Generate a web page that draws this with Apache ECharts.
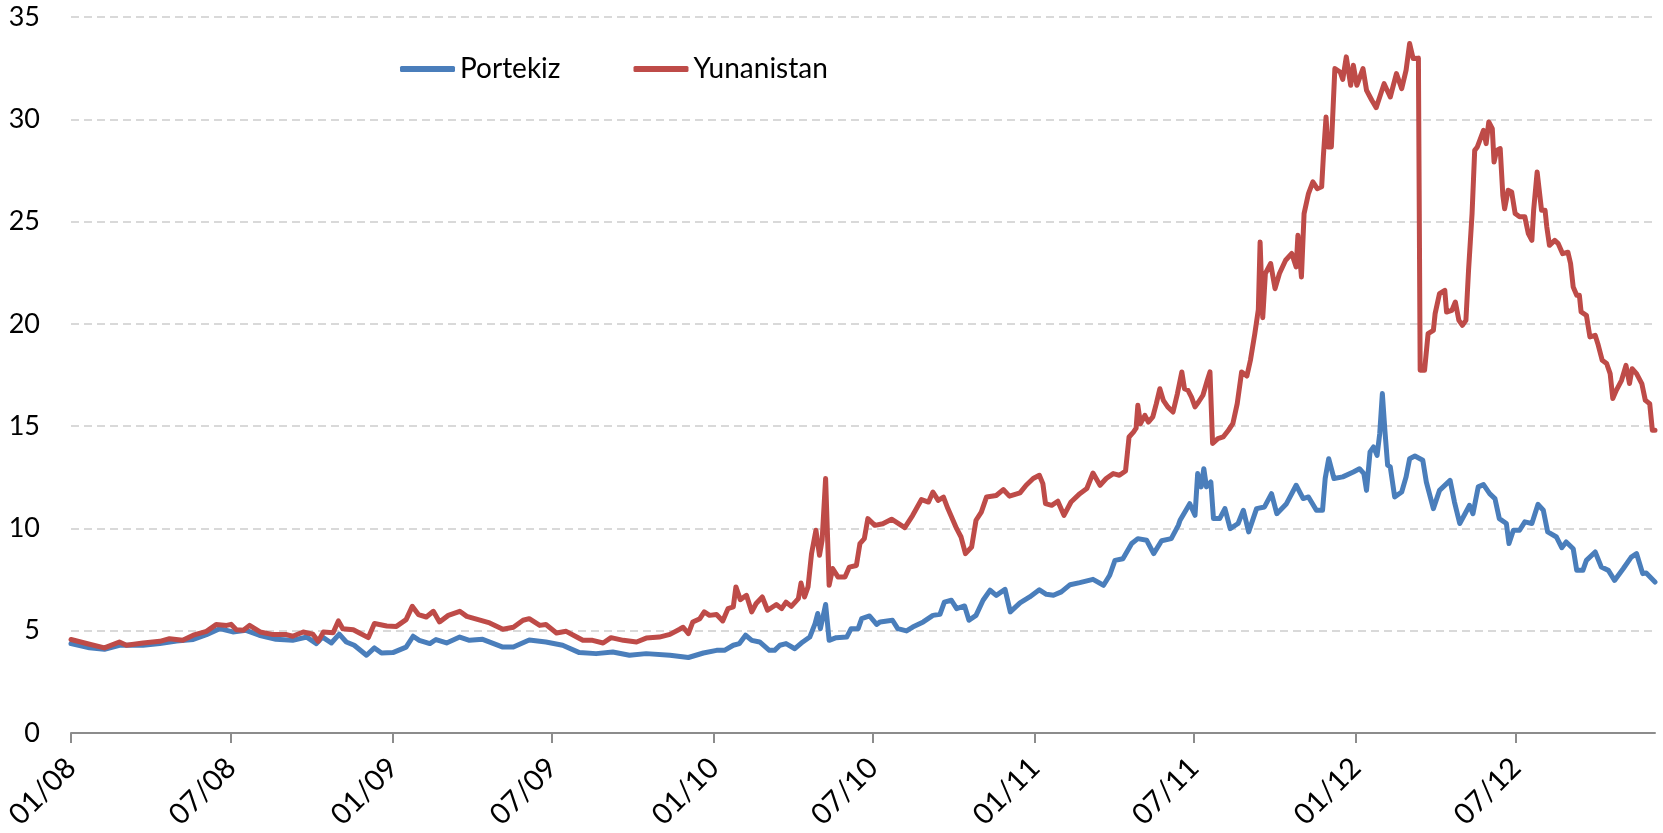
<!DOCTYPE html>
<html>
<head>
<meta charset="utf-8">
<title>Portekiz - Yunanistan</title>
<script src="https://cdn.jsdelivr.net/npm/echarts@6/dist/echarts.min.js"></script>
<style>
    html, body { margin: 0; padding: 0; background: #fff; }
    #chart { width: 1663px; height: 833px; }
</style>
</head>
<body>
<div id="chart"></div>
<script>
// Portekiz 10 yillik getiri (%)
var portDates = [
    '2008-01-01','2008-01-22','2008-02-08','2008-02-25','2008-03-23','2008-04-11','2008-04-30','2008-05-19','2008-06-03','2008-06-18','2008-07-03','2008-07-18','2008-08-02','2008-08-21','2008-09-09','2008-09-25','2008-10-06','2008-10-13','2008-10-23','2008-11-01','2008-11-09','2008-11-18','2008-12-02','2008-12-11','2008-12-19',
    '2009-01-01','2009-01-16','2009-01-24','2009-01-31','2009-02-12','2009-02-19','2009-03-03','2009-03-18','2009-03-29','2009-04-13','2009-05-06','2009-05-18','2009-06-05','2009-06-24','2009-07-13','2009-08-01','2009-08-20','2009-09-08','2009-09-27','2009-10-16','2009-11-12','2009-12-03','2009-12-20',
    '2010-01-04','2010-01-13','2010-01-23','2010-01-30','2010-02-06','2010-02-13','2010-02-22','2010-03-05','2010-03-11','2010-03-17','2010-03-24','2010-04-03','2010-04-12','2010-04-20','2010-04-26','2010-04-29','2010-05-02','2010-05-05','2010-05-08','2010-05-12','2010-05-20','2010-06-01','2010-06-06','2010-06-14','2010-06-18','2010-06-27','2010-07-05','2010-07-09','2010-07-23','2010-07-29','2010-08-08','2010-08-15','2010-08-27','2010-09-07','2010-09-15','2010-09-20','2010-09-28','2010-10-04','2010-10-13','2010-10-18','2010-10-26','2010-11-03','2010-11-11','2010-11-18','2010-11-28','2010-12-04','2010-12-15','2010-12-26',
    '2011-01-06','2011-01-14','2011-01-22','2011-01-31','2011-02-10','2011-02-21','2011-03-08','2011-03-20','2011-03-27','2011-04-02','2011-04-11','2011-04-21','2011-04-28','2011-05-08','2011-05-16','2011-05-25','2011-06-05','2011-06-13','2011-06-15','2011-06-26','2011-07-02','2011-07-05','2011-07-09','2011-07-12','2011-07-15','2011-07-20','2011-07-23','2011-07-30','2011-08-05','2011-08-11','2011-08-20','2011-08-26','2011-09-01','2011-09-10','2011-09-19','2011-09-27','2011-10-03','2011-10-14','2011-10-25','2011-11-02','2011-11-08','2011-11-17','2011-11-24','2011-11-27','2011-12-01','2011-12-07','2011-12-17','2011-12-29',
    '2012-01-05','2012-01-10','2012-01-13','2012-01-17','2012-01-21','2012-01-25','2012-01-28','2012-01-31','2012-02-03','2012-02-06','2012-02-09','2012-02-14','2012-02-22','2012-02-27','2012-03-02','2012-03-08','2012-03-17','2012-03-21','2012-03-29','2012-04-05','2012-04-17','2012-04-22','2012-04-28','2012-05-04','2012-05-09','2012-05-13','2012-05-19','2012-05-25','2012-06-01','2012-06-07','2012-06-12','2012-06-20','2012-06-23','2012-06-28','2012-07-05','2012-07-11','2012-07-19','2012-07-26','2012-08-01','2012-08-06','2012-08-16','2012-08-22','2012-08-27','2012-09-04','2012-09-08','2012-09-15','2012-09-19','2012-09-29','2012-10-06','2012-10-14','2012-10-21','2012-10-31','2012-11-09','2012-11-15','2012-11-22','2012-11-26','2012-12-06'
]
var portYields = [
    4.37,4.17,4.09,4.29,4.29,4.37,4.50,4.57,4.81,5.10,4.94,5.02,4.78,4.58,4.53,4.69,4.37,4.69,4.40,4.83,4.45,4.29,3.80,4.16,3.91,
    3.93,4.20,4.73,4.53,4.37,4.57,4.40,4.69,4.53,4.58,4.20,4.20,4.55,4.45,4.29,3.93,3.88,3.96,3.80,3.88,3.80,3.69,3.91,
    4.04,4.04,4.29,4.37,4.78,4.53,4.45,4.04,4.04,4.29,4.37,4.12,4.45,4.69,5.35,5.84,5.10,5.68,6.28,4.53,4.66,4.69,5.10,5.10,5.59,5.72,5.31,5.43,5.51,5.10,4.99,5.18,5.43,5.75,5.80,6.40,6.49,6.08,6.21,5.51,5.75,6.49,6.98,6.73,7.02,5.92,6.36,6.65,
    7.00,6.78,6.73,6.90,7.25,7.35,7.51,7.22,7.71,8.44,8.52,9.26,9.50,9.42,8.77,9.40,9.50,10.15,10.40,11.21,10.64,12.68,12.03,12.92,12.03,12.27,10.48,10.48,10.97,9.99,10.24,10.89,9.83,10.97,11.05,11.70,10.72,11.21,12.11,11.46,11.54,10.89,10.89,12.44,13.41,12.44,12.52,12.76,
    12.92,12.68,11.86,13.74,13.98,13.57,14.63,16.59,14.73,13.09,13.01,11.54,11.78,12.52,13.41,13.54,13.33,12.27,10.97,11.86,12.35,11.29,10.24,10.72,11.13,10.72,12.03,12.14,11.70,11.46,10.48,10.24,9.26,9.91,9.91,10.32,10.24,11.18,10.89,9.83,9.58,9.06,9.34,9.01,7.95,7.95,8.44,8.85,8.11,7.95,7.46,8.04,8.60,8.77,7.79,7.82,7.38
]

// Yunanistan 10 yillik getiri (%)
var grDates = [
    '2008-01-01','2008-01-22','2008-02-08','2008-02-25','2008-03-04','2008-03-23','2008-04-11','2008-04-22','2008-05-07','2008-05-19','2008-06-03','2008-06-14','2008-06-26','2008-07-01','2008-07-07','2008-07-15','2008-07-22','2008-08-03','2008-08-18','2008-09-02','2008-09-09','2008-09-21','2008-10-02','2008-10-08','2008-10-14','2008-10-25','2008-10-31','2008-11-05','2008-11-17','2008-11-24','2008-12-04','2008-12-11','2008-12-25',
    '2009-01-05','2009-01-16','2009-01-23','2009-01-30','2009-02-08','2009-02-16','2009-02-23','2009-03-05','2009-03-18','2009-03-26','2009-04-08','2009-04-21','2009-05-06','2009-05-18','2009-05-29','2009-06-05','2009-06-17','2009-06-24','2009-07-06','2009-07-17','2009-07-29','2009-08-05','2009-08-16','2009-08-28','2009-09-06','2009-09-20','2009-10-05','2009-10-16','2009-10-31','2009-11-12','2009-11-23','2009-11-27','2009-12-03','2009-12-08','2009-12-16','2009-12-21','2009-12-27',
    '2010-01-04','2010-01-11','2010-01-17','2010-01-23','2010-01-26','2010-01-31','2010-02-07','2010-02-13','2010-02-18','2010-02-25','2010-03-03','2010-03-13','2010-03-19','2010-03-24','2010-03-30','2010-04-07','2010-04-10','2010-04-14','2010-04-18','2010-04-22','2010-04-27','2010-05-01','2010-05-04','2010-05-08','2010-05-12','2010-05-16','2010-05-22','2010-05-30','2010-06-04','2010-06-12','2010-06-16','2010-06-21','2010-06-25','2010-07-03','2010-07-12','2010-07-22','2010-08-06','2010-08-15','2010-08-25','2010-09-02','2010-09-07','2010-09-13','2010-09-19','2010-09-24','2010-10-04','2010-10-09','2010-10-14','2010-10-21','2010-10-26','2010-11-01','2010-11-07','2010-11-18','2010-11-26','2010-12-03','2010-12-15','2010-12-22','2010-12-30',
    '2011-01-06','2011-01-10','2011-01-13','2011-01-20','2011-01-27','2011-02-03','2011-02-11','2011-02-21','2011-03-01','2011-03-08','2011-03-16','2011-03-23','2011-03-31','2011-04-07','2011-04-14','2011-04-18','2011-04-23','2011-04-26','2011-04-28','2011-05-01','2011-05-06','2011-05-10','2011-05-15','2011-05-19','2011-05-23','2011-05-27','2011-06-01','2011-06-07','2011-06-12','2011-06-17','2011-06-20','2011-06-24','2011-06-28','2011-07-02','2011-07-06','2011-07-11','2011-07-16','2011-07-19','2011-07-22','2011-07-28','2011-08-03','2011-08-09','2011-08-14','2011-08-19','2011-08-24','2011-08-30','2011-09-03','2011-09-08','2011-09-12','2011-09-14','2011-09-17','2011-09-20','2011-09-26','2011-10-01','2011-10-06','2011-10-13','2011-10-20','2011-10-25','2011-10-27','2011-10-31','2011-11-03','2011-11-08','2011-11-13','2011-11-18','2011-11-23','2011-11-25','2011-11-28','2011-11-30','2011-12-04','2011-12-08','2011-12-14','2011-12-17','2011-12-21','2011-12-26','2011-12-29',
    '2012-01-02','2012-01-09','2012-01-13','2012-01-19','2012-01-24','2012-01-28','2012-02-02','2012-02-09','2012-02-16','2012-02-22','2012-02-27','2012-03-02','2012-03-06','2012-03-12','2012-03-14','2012-03-19','2012-03-23','2012-03-29','2012-03-31','2012-04-05','2012-04-11','2012-04-13','2012-04-19','2012-04-23','2012-04-27','2012-05-01','2012-05-05','2012-05-08','2012-05-12','2012-05-15','2012-05-18','2012-05-23','2012-05-25','2012-05-28','2012-05-31','2012-06-04','2012-06-06','2012-06-09','2012-06-13','2012-06-16','2012-06-18','2012-06-22','2012-06-26','2012-06-30','2012-07-05','2012-07-11','2012-07-15','2012-07-19','2012-07-21','2012-07-25','2012-07-30','2012-08-03','2012-08-05','2012-08-08','2012-08-14','2012-08-18','2012-08-23','2012-08-29','2012-09-01','2012-09-04','2012-09-08','2012-09-11','2012-09-13','2012-09-19','2012-09-23','2012-09-29','2012-10-02','2012-10-07','2012-10-12','2012-10-16','2012-10-19','2012-10-23','2012-10-29','2012-11-03','2012-11-07','2012-11-10','2012-11-15','2012-11-21','2012-11-25','2012-11-30','2012-12-03','2012-12-06'
]
var grYields = [
    4.57,4.34,4.16,4.45,4.29,4.40,4.48,4.61,4.53,4.78,4.97,5.30,5.26,5.31,5.05,5.02,5.26,4.94,4.81,4.81,4.73,4.94,4.83,4.48,4.94,4.90,5.48,5.10,5.05,4.89,4.66,5.35,5.23,
    5.21,5.54,6.19,5.79,5.67,5.95,5.43,5.75,5.95,5.70,5.54,5.38,5.07,5.17,5.51,5.59,5.26,5.30,4.89,4.97,4.69,4.53,4.53,4.40,4.66,4.53,4.45,4.64,4.69,4.82,5.07,5.17,4.86,5.43,5.59,5.92,5.75,
    5.79,5.48,6.08,6.16,7.14,6.52,6.73,5.92,6.33,6.65,6.00,6.28,6.08,6.40,6.19,6.57,7.33,6.65,7.14,8.77,9.91,8.69,9.42,12.44,7.22,8.04,7.63,7.63,8.11,8.19,9.26,9.50,10.48,10.15,10.23,10.45,10.04,10.64,11.41,11.29,11.78,11.37,11.53,10.97,9.99,9.58,8.77,9.09,10.40,10.80,11.54,11.61,11.90,11.58,11.74,12.11,12.44,
    12.60,12.19,11.21,11.13,11.33,10.64,11.29,11.70,11.95,12.71,12.11,12.44,12.68,12.60,12.81,14.47,14.71,14.90,16.02,15.12,15.53,15.20,15.45,16.10,16.83,16.26,15.94,15.69,16.59,17.65,16.83,16.75,16.42,15.94,16.18,16.51,17.24,17.65,14.15,14.39,14.47,14.80,15.12,16.10,17.65,17.45,18.22,19.52,20.70,24.00,20.30,22.46,22.95,21.72,22.46,23.11,23.44,22.78,24.33,22.29,25.39,26.37,26.94,26.61,26.70,28.24,30.11,28.65,28.65,32.48,32.31,31.95,33.05,31.66,32.64,
    31.66,32.48,31.42,30.93,30.57,31.09,31.74,31.09,32.23,31.50,32.40,33.70,32.97,32.99,17.73,17.73,19.52,19.68,20.50,21.48,21.64,20.58,20.66,21.07,20.17,19.93,20.17,22.62,25.39,28.48,28.65,29.22,29.46,28.81,29.87,29.54,27.91,28.48,28.57,26.28,25.63,26.53,26.45,25.39,25.23,25.23,24.41,24.08,25.55,27.42,25.55,25.55,24.73,23.84,24.08,23.92,23.43,23.50,22.95,21.80,21.40,21.40,20.58,20.42,19.36,19.44,19.03,18.22,18.06,17.57,16.35,16.75,17.24,17.97,17.08,17.81,17.57,17.08,16.26,16.10,14.80,14.80
]

var tickDates = ['2008-01-01','2008-07-01','2009-01-01','2009-07-01','2010-01-01','2010-07-01','2011-01-01','2011-07-01','2012-01-01','2012-07-01']

// yyyy-mm-dd -> zaman damgasi
function toTime(s) {
    var p = s.split('-')
    return Date.UTC(+p[0], +p[1] - 1, +p[2])
}
function pairs(dates, vals) {
    return dates.map(function (d, i) { return [toTime(d), vals[i]] })
}

var myChart = echarts.init(document.getElementById('chart'))
var font = 'Lato, "Open Sans", sans-serif'

var option = {
    animation: false,
    backgroundColor: '#fff',
    textStyle: { fontFamily: font },
    grid: {
        left: 71,
        right: 8,
        top: 17,
        bottom: 100,
        containLabel: false
    },
    legend: {
        left: 395,
        top: 50,
        icon: 'roundRect',
        itemWidth: 55,
        itemHeight: 6,
        itemGap: 73,
        textStyle: { fontSize: 28, color: '#000', fontFamily: font, lineHeight: 28 },
        data: ['Portekiz', 'Yunanistan']
    },
    // tarih ekseni: zaman damgalari uzerinde deger ekseni
    xAxis: {
        type: 'value',
        min: toTime(portDates[0]),
        max: toTime(portDates[portDates.length - 1]),
        axisLine: { lineStyle: { color: '#8c8c8c', width: 2 } },
        axisTick: {
            show: true,
            length: 10,
            lineStyle: { color: '#8c8c8c', width: 2 },
            customValues: tickDates.map(toTime)
        },
        axisLabel: {
            rotate: 45,
            margin: 30,
            fontSize: 29,
            color: '#000',
            fontFamily: font,
            customValues: tickDates.map(toTime),
            formatter: function (v) {
                var d = new Date(v)
                return ('0' + (d.getUTCMonth() + 1)).slice(-2) + '/' + String(d.getUTCFullYear()).slice(2)
            }
        },
        splitLine: { show: false }
    },
    yAxis: {
        type: 'value',
        min: 0,
        max: 35,
        interval: 5,
        axisLine: { show: false },
        axisTick: { show: false },
        axisLabel: { fontSize: 27, color: '#000', margin: 31, fontFamily: font },
        splitLine: {
            lineStyle: { color: '#d9d9d9', width: 2, type: [8, 5] }
        }
    },
    series: [
        {
            name: 'Portekiz',
            type: 'line',
            showSymbol: false,
            data: pairs(portDates, portYields),
            itemStyle: { color: '#4a7ebb' },
            lineStyle: { color: '#4a7ebb', width: 5, join: 'round', cap: 'round' }
        },
        {
            name: 'Yunanistan',
            type: 'line',
            showSymbol: false,
            data: pairs(grDates, grYields),
            itemStyle: { color: '#be4b48' },
            lineStyle: { color: '#be4b48', width: 5, join: 'round', cap: 'round' }
        }
    ]
}

myChart.setOption(option)
</script>
</body>
</html>
